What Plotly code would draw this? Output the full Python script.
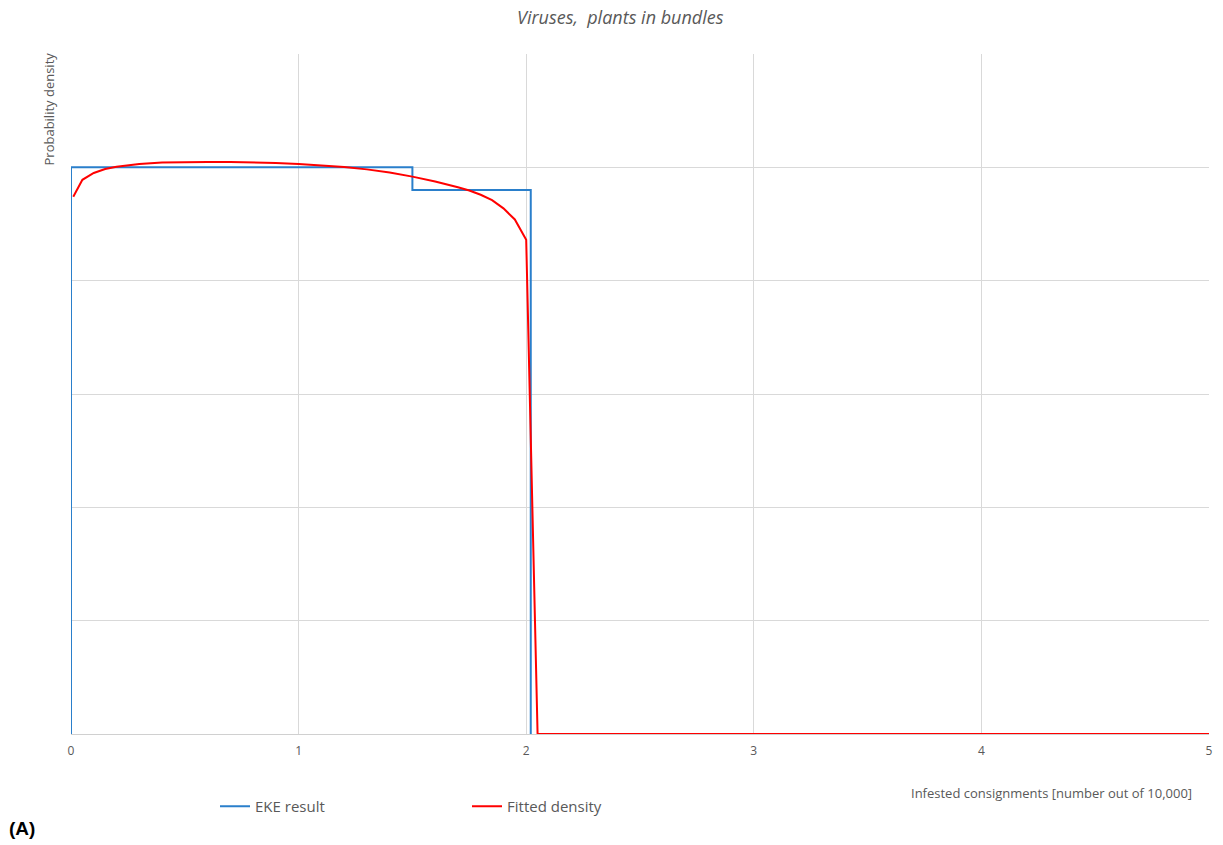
import plotly.graph_objects as go

# EKE result: step density
eke_edges = [0.0, 1.5, 2.02]
eke_density = [0.5, 0.48]

# Fitted density curve
fit_x = [0.01, 0.05, 0.10, 0.15, 0.20, 0.30, 0.40, 0.50, 0.60, 0.70, 0.80, 0.90, 1.00,
         1.10, 1.20, 1.30, 1.40, 1.50, 1.60, 1.70, 1.75, 1.80, 1.85, 1.90, 1.95, 2.00,
         2.05, 2.50, 3.00, 3.50, 4.00, 4.50, 5.00]
fit_y = [0.474, 0.489, 0.495, 0.4985, 0.5005, 0.503, 0.5042, 0.5047, 0.5048, 0.5047,
         0.5044, 0.5038, 0.503, 0.5018, 0.5003, 0.4982, 0.4955, 0.4918, 0.4875, 0.4825,
         0.4795, 0.4758, 0.471, 0.4638, 0.454, 0.436, 0.0, 0.0, 0.0, 0.0, 0.0, 0.0, 0.0]

x_ticks = [0, 1, 2, 3, 4, 5]

# build step path from edges/densities
step_x = [eke_edges[0]]
step_y = [0.0]
for i, d in enumerate(eke_density):
    step_x += [eke_edges[i], eke_edges[i + 1]]
    step_y += [d, d]
step_x.append(eke_edges[-1])
step_y.append(0.0)

FONT = "Open Sans"
GRAY = "#595959"

W, H = 1223, 845
L, R, T, B = 71, 14, 54, 111
PW = W - L - R   # 1138
PH = H - T - B   # 680

def px(xpage):
    return (xpage - L) / PW

def py(ypage):
    return 1 - (ypage - T) / PH

fig = go.Figure()
fig.add_trace(go.Scatter(x=step_x, y=step_y, mode="lines", name="EKE result",
                         line=dict(color="#2A7FCB", width=2)))
fig.add_trace(go.Scatter(x=fit_x, y=fit_y, mode="lines", name="Fitted density",
                         line=dict(color="#FF0000", width=2)))

fig.update_layout(
    width=W, height=H,
    margin=dict(l=L, r=R, t=T, b=B, autoexpand=False),
    paper_bgcolor="white", plot_bgcolor="white",
    font=dict(family=FONT, color=GRAY),
    showlegend=True,
    legend=dict(orientation="h", x=px(215), xanchor="left",
                y=py(790), yanchor="top", font=dict(size=15, color=GRAY),
                entrywidth=207, entrywidthmode="pixels", bgcolor="rgba(0,0,0,0)"),
    xaxis=dict(range=[0, 5], tickvals=x_ticks, ticktext=[str(v) for v in x_ticks],
               showgrid=True, gridcolor="#D9D9D9", gridwidth=1, automargin=False,
               zeroline=False, showline=True, linecolor="#D0D0D0", linewidth=1,
               tickfont=dict(size=12, color=GRAY), ticks="", ticklen=0,
               ticklabelstandoff=6),
    yaxis=dict(range=[0, 0.6], dtick=0.1, showticklabels=False, automargin=False,
               showgrid=True, gridcolor="#D9D9D9", gridwidth=1,
               zeroline=False, showline=False, ticks=""),
    annotations=[
        dict(text="<i>Viruses,  plants in bundles</i>", xref="paper", yref="paper",
             x=px(620), y=py(17), xanchor="center", yanchor="middle",
             showarrow=False, font=dict(size=18, color=GRAY)),
        dict(text="Probability density", xref="paper", yref="paper",
             x=px(48), y=py(51), xanchor="center", yanchor="top",
             textangle=-90, showarrow=False, font=dict(size=13, color=GRAY)),
        dict(text="Infested consignments [number out of 10,000]", xref="paper", yref="paper",
             x=px(1194), y=py(793), xanchor="right", yanchor="middle",
             showarrow=False, font=dict(size=13, color=GRAY)),
        dict(text="<b>(A)</b>", xref="paper", yref="paper",
             x=px(7), y=py(828), xanchor="left", yanchor="middle",
             showarrow=False, font=dict(size=19, color="black", family="Liberation Sans")),
    ],
)

fig.write_html(
    "out.html",
    config={"displayModeBar": False},
    post_script="document.body.style.margin='0';document.body.style.overflow='hidden';",
)
